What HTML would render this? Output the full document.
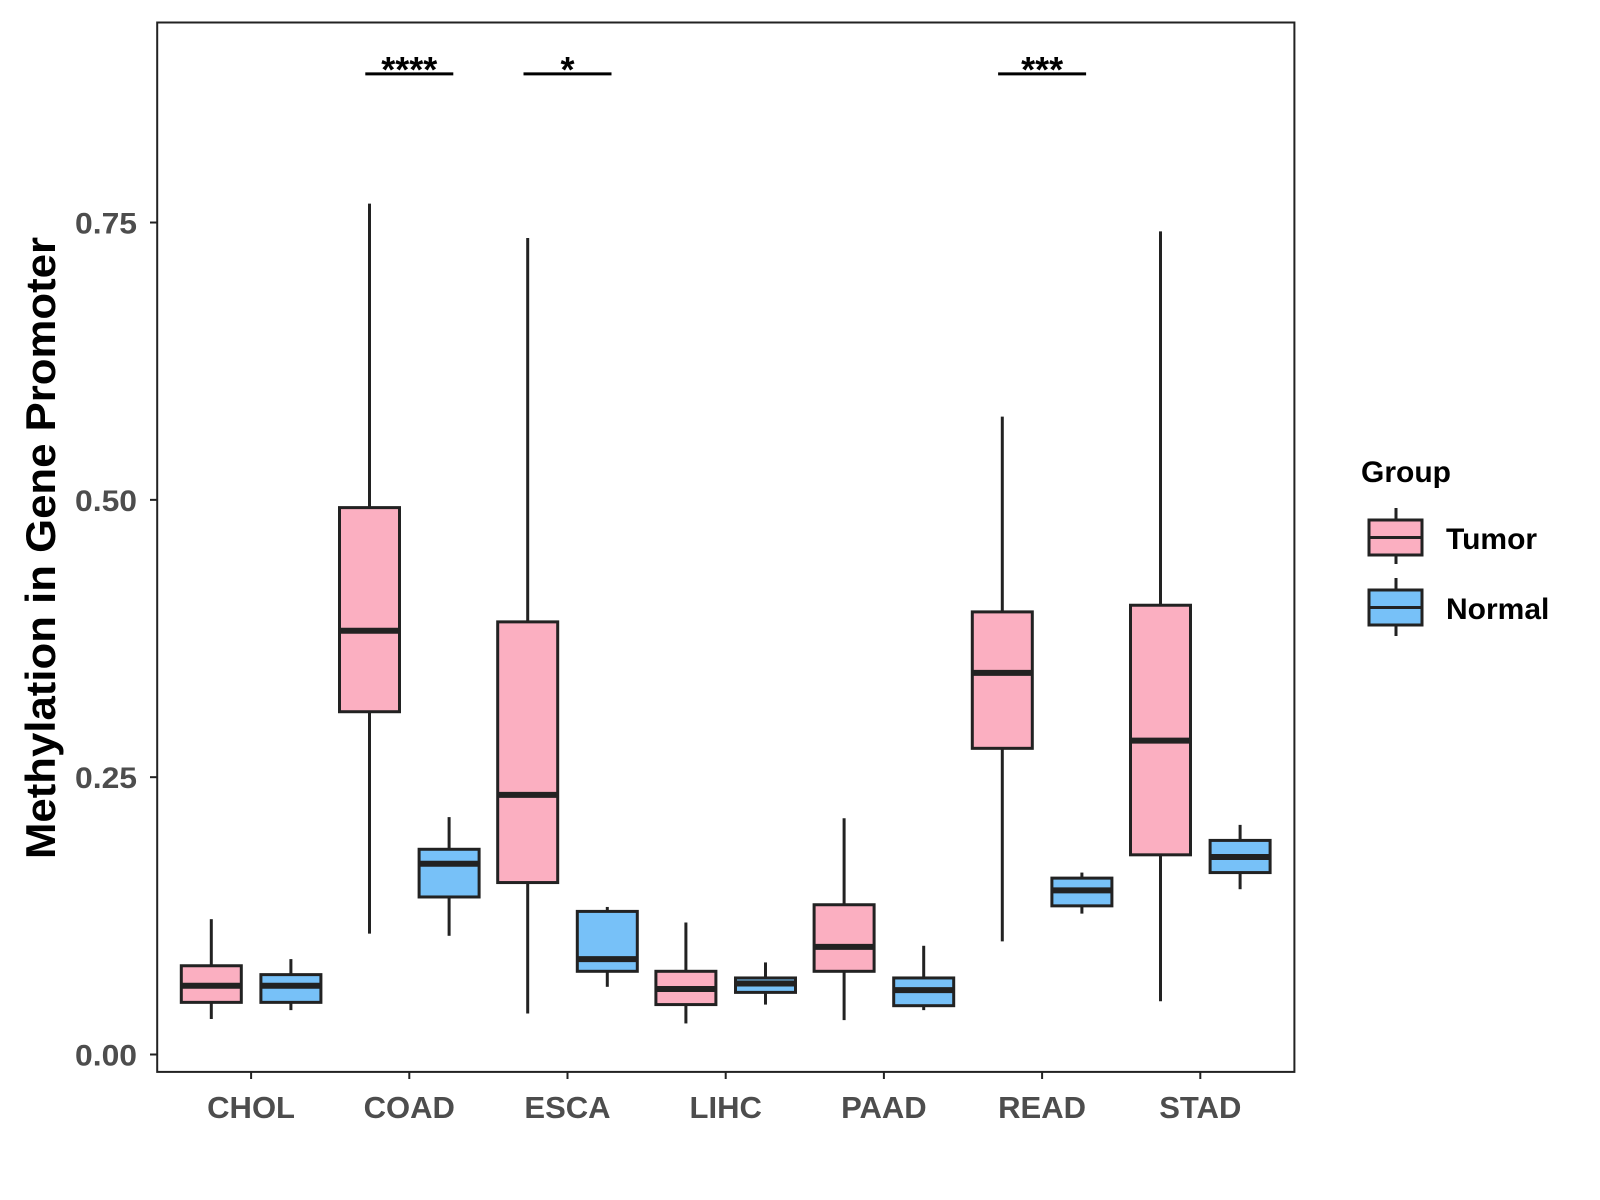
<!DOCTYPE html>
<html><head><meta charset="utf-8"><style>
html,body{margin:0;padding:0;background:#fff;}
svg{display:block;font-family:"Liberation Sans",Arial,sans-serif;}
</style></head><body>
<svg id="chart" width="1600" height="1200" xmlns="http://www.w3.org/2000/svg">
<rect x="157.2" y="22.5" width="1137.2" height="1049.4" fill="#fff" stroke="#222" stroke-width="2"/>
<g id="axes"></g><g id="boxes"></g><g id="sig"></g>
<text x="0" y="0" transform="translate(55,548) rotate(-90)" text-anchor="middle" font-size="42" font-weight="bold" fill="#000" textLength="622" lengthAdjust="spacingAndGlyphs">Methylation in Gene Promoter</text>
<g>
<text x="1361" y="482" font-size="30" font-weight="bold">Group</text>
<g>
<line x1="1396" y1="508" x2="1396" y2="564" stroke="#222" stroke-width="3"/>
<rect x="1369" y="520" width="53" height="35" fill="#FBAFC1" stroke="#222" stroke-width="3"/>
<line x1="1369" y1="537.5" x2="1422" y2="537.5" stroke="#222" stroke-width="3"/>
<text x="1446" y="549" font-size="30" font-weight="bold">Tumor</text></g>
<g>
<line x1="1396" y1="578" x2="1396" y2="636" stroke="#222" stroke-width="3"/>
<rect x="1369" y="590" width="53" height="35" fill="#77C1F8" stroke="#222" stroke-width="3"/>
<line x1="1369" y1="607.5" x2="1422" y2="607.5" stroke="#222" stroke-width="3"/>
<text x="1446" y="619" font-size="30" font-weight="bold">Normal</text></g>
</g>
</svg>
<script>
const categories=["CHOL","COAD","ESCA","LIHC","PAAD","READ","STAD"];
// [low, q1, median, q3, high]
const tumorStats=[[0.032,0.047,0.062,0.080,0.122],[0.109,0.309,0.382,0.493,0.767],[0.037,0.155,0.234,0.390,0.736],[0.028,0.045,0.059,0.075,0.119],[0.031,0.075,0.097,0.135,0.213],[0.102,0.276,0.344,0.399,0.575],[0.048,0.180,0.283,0.405,0.742]];
const normalStats=[[0.040,0.047,0.062,0.072,0.086],[0.107,0.142,0.172,0.185,0.214],[0.061,0.075,0.086,0.129,0.133],[0.045,0.056,0.064,0.069,0.083],[0.040,0.044,0.058,0.069,0.098],[0.127,0.134,0.148,0.159,0.164],[0.149,0.164,0.178,0.193,0.207]];
const yTicks=[0,0.25,0.5,0.75];
const yTickLabels=["0.00","0.25","0.50","0.75"];
const sigCategories=["COAD","ESCA","READ"];
const sigLabels=["****","*","***"];
const sigLevel=0.884;
const NS="http://www.w3.org/2000/svg";
const y=v=>1054.5-v*1109.3;
const x=i=>251.1+i*158.2;
function mk(tag,attrs,parent){const e=document.createElementNS(NS,tag);for(const k in attrs)e.setAttribute(k,attrs[k]);parent.appendChild(e);return e;}
const axes=document.getElementById('axes');
yTicks.forEach((t,i)=>{
 const l=mk('line',{x1:150,x2:157,y1:y(t),y2:y(t),stroke:'#222','stroke-width':2},axes);
 
 
 const tx=mk('text',{x:137,y:y(t)+11,'text-anchor':'end','font-size':30,'font-weight':'bold',fill:'#4d4d4d',textLength:62,lengthAdjust:'spacingAndGlyphs'},axes);
 tx.textContent=yTickLabels[i];
 
 
});
categories.forEach((c,i)=>{
 const l=mk('line',{x1:x(i),x2:x(i),y1:1072,y2:1079,stroke:'#222','stroke-width':2},axes);
 
 
 const tx=mk('text',{x:x(i),y:1118,'text-anchor':'middle','font-size':31,'font-weight':'bold',fill:'#4d4d4d'},axes);
 tx.textContent=c;
 
 
});
const boxes=document.getElementById('boxes');
function drawBox(s,cx,fill,name){
 const g=mk('g',{},boxes);
 
 
 const hw=30;
 mk('line',{x1:cx,x2:cx,y1:y(s[4]),y2:y(s[3]),stroke:'#222','stroke-width':3},g);
 mk('line',{x1:cx,x2:cx,y1:y(s[1]),y2:y(s[0]),stroke:'#222','stroke-width':3},g);
 mk('rect',{x:cx-hw,y:y(s[3]),width:2*hw,height:y(s[1])-y(s[3]),fill:fill,stroke:'#222','stroke-width':3},g);
 mk('line',{x1:cx-hw,x2:cx+hw,y1:y(s[2]),y2:y(s[2]),stroke:'#222','stroke-width':6},g);
}
categories.forEach((c,i)=>{
 drawBox(tumorStats[i],x(i)-39.8,'#FBAFC1','box-tumor-'+c.toLowerCase());
 drawBox(normalStats[i],x(i)+39.8,'#77C1F8','box-normal-'+c.toLowerCase());
});
const sig=document.getElementById('sig');
sigCategories.forEach((c,k)=>{
 const i=categories.indexOf(c);
 const l=mk('line',{x1:x(i)-44,x2:x(i)+44,y1:y(sigLevel),y2:y(sigLevel),stroke:'#000','stroke-width':3},sig);
 
 
 const t=mk('text',{x:x(i),y:y(sigLevel)+8,'text-anchor':'middle','font-size':36,'font-weight':'bold',fill:'#000'},sig);
 t.textContent=sigLabels[k];
 
 
});
</script>
</body></html>
